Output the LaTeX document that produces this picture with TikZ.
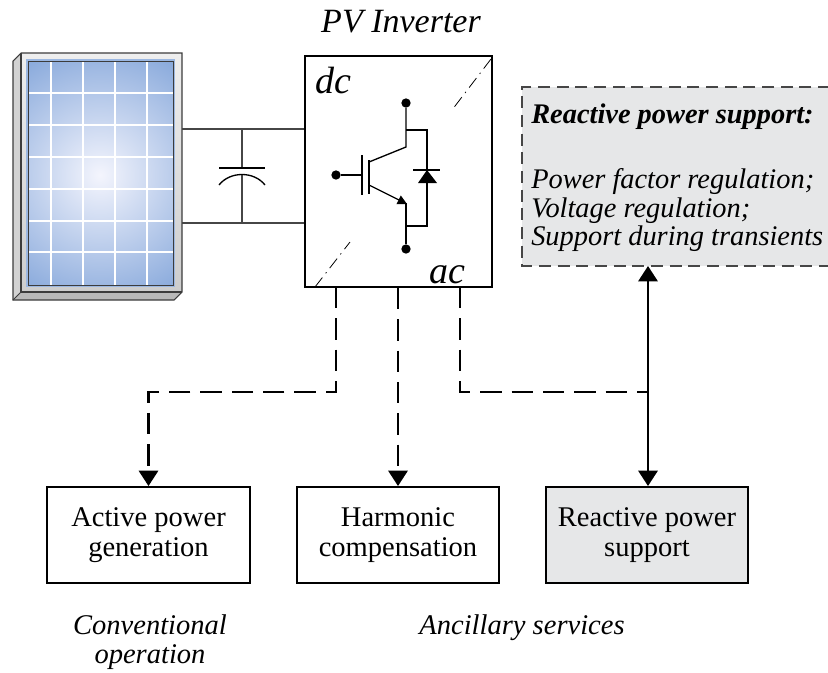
\documentclass[tikz,border=0pt]{standalone}
\usepackage{fontspec}
\setmainfont{Liberation Serif}
\usetikzlibrary{arrows.meta}

\definecolor{panelblue}{RGB}{112,152,212}
\definecolor{panelglow}{RGB}{244,245,253}
\definecolor{framelight}{RGB}{238,238,238}
\definecolor{framedark}{RGB}{205,205,205}
\definecolor{frameline}{RGB}{60,60,60}
\definecolor{boxgray}{RGB}{230,231,232}
\definecolor{wirecol}{RGB}{70,70,70}

\tikzset{
  servicebox/.style={draw, line width=1.5pt, minimum width=152pt, minimum height=72pt,
    inner sep=0pt, align=center, font=\fontsize{21.4}{22.5}\selectfont},
  link/.style={line width=1.6pt, dash pattern=on 16pt off 7.5pt},
  bigtip/.style={-{Triangle[length=11.5pt,width=14.5pt]}},
  dcwire/.style={wirecol, line width=0.9pt},
  igbt/.style={line width=1pt},
  caption/.style={font=\fontsize{21.4}{22.5}\selectfont\itshape, anchor=base},
  infotext/.style={font=\fontsize{21.3}{22}\selectfont\itshape, anchor=base west, inner sep=0pt},
  pin/.style={circle, fill, inner sep=0pt, minimum size=7pt},
}

\begin{document}
\begin{tikzpicture}[x=0.75pt, y=-0.75pt]
\useasboundingbox (0,0) rectangle (828,672);

% ---------- solar panel ----------
\fill[framedark!90] (21,53) -- (13,61) -- (13,300) -- (21,292) -- cycle;
\fill[gray!55] (13,300) -- (174,300) -- (182,292) -- (21,292) -- cycle;
\shade[top color=framelight, bottom color=framedark] (21,53) rectangle (182,292);
\draw[frameline, line width=0.8pt] (21,53) -- (13,61) -- (13,300) -- (174,300) -- (182,292)
  -- (182,53) -- cycle;
\draw[frameline, line width=0.8pt] (21,53) -- (21,292) -- (182,292);
\draw[frameline, line width=0.6pt] (13,300) -- (21,292);
\begin{scope}
  \clip (28,61) rectangle (173,285);
  \fill[panelblue] (28,61) rectangle (173,285);
  \shade[inner color=panelglow, outer color=panelblue] (100,175) circle [radius=125pt];
  \foreach \gx in {51,83,115,147} \draw[white, line width=1.1pt] (\gx,61) -- (\gx,285);
  \foreach \gy in {93,125,157,189,221,252} \draw[white, line width=1.1pt] (28,\gy) -- (173,\gy);
\end{scope}
\draw[panelblue!70, line width=1pt] (27,60) rectangle (174,286);
\draw[frameline, line width=0.6pt] (28,61) rectangle (173,285);

\coordinate (pvTop) at (182,129);
\coordinate (pvBot) at (182,223);

% ---------- inverter ----------
\node[draw, line width=1.5pt, minimum width=140.25pt, minimum height=173.25pt, inner sep=0pt]
  (inv) at (398.5,171.5) {};
\node[font=\fontsize{25.5}{28}\selectfont\itshape, anchor=base] (title) at (401,32) {PV Inverter};
\node[font=\fontsize{28.5}{30}\selectfont\itshape, anchor=base west, inner sep=0pt] (dc) at (315,93) {dc};
\node[font=\fontsize{28.5}{30}\selectfont\itshape, anchor=base west, inner sep=0pt] (ac) at (429,283) {ac};
\draw[line width=0.6pt, dash pattern=on 9pt off 4pt on 1pt off 4pt] (315,287) -- (350,242);
\draw[line width=0.6pt, dash pattern=on 9pt off 4pt on 1pt off 4pt] (491,59) -- (452,110);

% dc link with capacitor
\draw[dcwire] (pvTop) -- (pvTop -| inv.west);
\draw[dcwire] (pvBot) -- (pvBot -| inv.west);
\draw[dcwire] (242,129) -- (242,168);
\draw[dcwire] (242,174) -- (242,223);
\draw[black, line width=1pt] (219,168) -- (265,168);
\draw[black, line width=1pt] (219,185) .. controls (230,171) and (254,171) .. (265,185);

% IGBT with antiparallel diode
\node[pin] (col) at (406,103) {};
\node[pin] (emi) at (406,249) {};
\node[pin] (gate) at (336,175) {};
\draw[igbt] (col) -- (406,147) -- (369,162);
\draw[igbt] (406,130) -- (427,130) -- (427,226) -- (406,226);
\draw[igbt, -{Triangle[length=7pt,width=7pt]}] (369,185) -- (407,204);
\draw[igbt] (406,203) -- (emi);
\draw[igbt] (gate) -- (362,175);
\draw[igbt] (362,155) -- (362,195);
\draw[igbt] (369,160) -- (369,194);
\fill (427,170) -- (418,183) -- (437,183) -- cycle;
\draw[igbt] (413,170) -- (440,170);

% ---------- reactive power info box ----------
\fill[boxgray] (522,87) rectangle (830,266);
\draw[wirecol, line width=0.9pt, dash pattern=on 9pt off 5pt] (830,87) -- (522,87) -- (522,266) -- (830,266);
\coordinate (rps) at (648,266);
\node[infotext, font=\fontsize{21.3}{22}\selectfont\bfseries\itshape] (rpsTitle) at (531,123) {Reactive power support:};
\node[infotext] (rps1) at (531,188) {Power factor regulation;};
\node[infotext] (rps2) at (531,217) {Voltage regulation;};
\node[infotext] (rps3) at (531,245) {Support during transients};

% ---------- services ----------
\node[servicebox] (act) at (148.5,535) {Active power\\generation};
\node[servicebox] (hc) at (398,535) {Harmonic\\compensation};
\node[servicebox, fill=boxgray] (rp) at (647,535) {Reactive power\\support};

\node[caption] (conv1) at (150,634) {Conventional};
\node[caption] (conv2) at (150,663) {operation};
\node[caption] (anc) at (522,634) {Ancillary services};

% ---------- connectors ----------
\coordinate (o1) at (336,287);
\coordinate (o3) at (460,287);
\coordinate (bend1) at (336,392);
\coordinate (bend3) at (460,392);
\draw[link, bigtip] (o1) -- (bend1) -| (act.north);
\draw[link, bigtip] (inv.south -| hc.north) -- (hc.north);
\draw[link] (o3) -- (bend3) -- (rps |- bend3);
\draw[line width=1.6pt, {Triangle[length=11.5pt,width=14.5pt]}-{Triangle[length=11.5pt,width=14.5pt]}]
  (rps) -- (rps |- rp.north);
\end{tikzpicture}
\end{document}
